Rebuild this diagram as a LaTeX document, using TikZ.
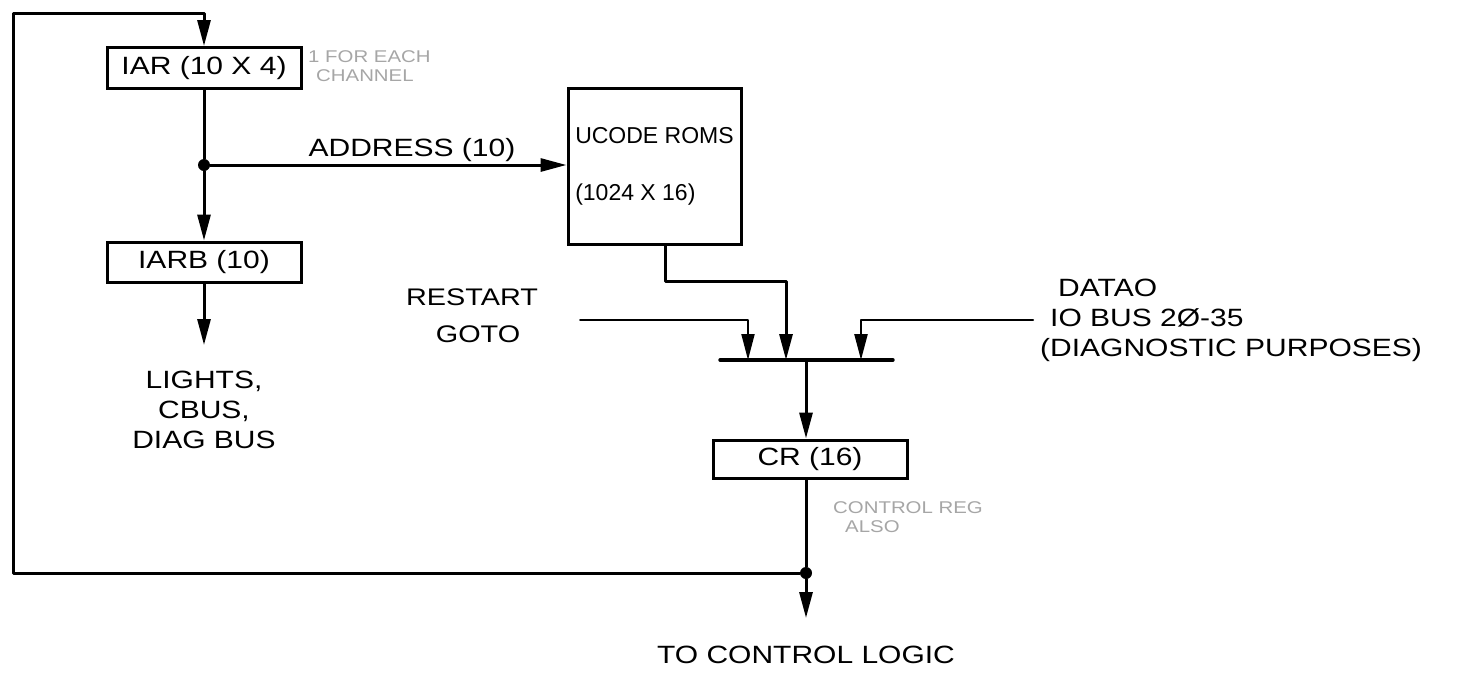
\documentclass[tikz,border=0pt]{standalone}
\usepackage{fontspec}
\setmainfont[FakeStretch=1.2]{Liberation Sans}
\newfontfamily\romfont{Liberation Sans}
\usetikzlibrary{arrows.meta}
\tikzset{
  x=1pt, y=-1pt,
  wire/.style={line width=3pt, line cap=round, line join=round},
  arr/.style={wire, -{Triangle[length=26pt,width=13pt]}},
  reg/.style={draw, line width=3pt, rectangle, inner sep=0pt, font=\fontsize{25}{28}\selectfont},
  lbl/.style={font=\fontsize{25}{30}\selectfont, inner sep=0pt},
  faint/.style={font=\fontsize{17}{19}\selectfont, text=black!35, inner sep=0pt, align=left},
  junction/.style={circle, fill, inner sep=0pt, minimum size=12pt}
}
\begin{document}
\begin{tikzpicture}
\useasboundingbox (0,0) rectangle (1467,673);
% registers
\node[reg, minimum width=194pt, minimum height=41pt] (iar) at (204,68) {IAR (10 X 4)};
\node[reg, minimum width=194pt, minimum height=40pt] (iarb) at (204,262) {IARB (10)};
\node[reg, minimum width=173pt, minimum height=156pt, align=left, font=\romfont\fontsize{23}{26}\selectfont] (rom) at (654.5,166) {UCODE ROMS\\[31pt](1024 X 16)};
\node[reg, minimum width=194pt, minimum height=38pt] (cr) at (810,459) {CR (16)};
% junctions and points
\node[junction] (j1) at (204,165) {};
\node[junction] (j2) at (806,573) {};
\coordinate (barL) at (720,360);
\coordinate (barR) at (893,360);
\coordinate (bar1) at (748,360);
\coordinate (bar2) at (786,360);
\coordinate (bar3) at (861,360);
\coordinate (bar0) at (806,360);
\coordinate (rs) at (580,320);
\coordinate (dt) at (1033,320);
\coordinate (lt) at (204,345);
\coordinate (out) at (806,618);
% labels
\node[lbl] (addr) at (412,150) {ADDRESS (10)};
\node[lbl, align=center] (lights) at (204,410) {LIGHTS,\\CBUS,\\DIAG BUS};
\node[lbl, align=center, font=\fontsize{24}{37}\selectfont] (restart) at (472,316) {RESTART\\\hspace*{12pt}GOTO};
\node[lbl, align=left, anchor=west] (datao) at (1040,320) {\hspace*{18pt}DATAO\\\hspace*{10pt}IO BUS 2Ø-35\\(DIAGNOSTIC PURPOSES)};
\node[lbl] (tcl) at (806,655) {TO CONTROL LOGIC};
\node[faint, anchor=west] (note1) at (308,66) {1 FOR EACH\\\hspace*{8pt}CHANNEL};
\node[faint, anchor=west] (note2) at (833,517) {CONTROL REG\\\hspace*{12pt}ALSO};
% connectors
\draw[wire] (iar.south) -- (j1);
\draw[arr] (j1) -- (iarb.north);
\draw[arr] (j1) -- (rom.west |- j1);
\draw[arr] (iarb.south) -- (lt);
\draw[arr] (rom.south -| 665,0) -- (665,281) -- (786,281) -- (bar2);
\draw[arr, line width=2pt] (rs) -- (748,320) -- (bar1);
\draw[arr, line width=2.4pt] (dt) -- (861,320) -- (bar3);
\draw[wire, line width=3.4pt] (barL) -- (barR);
\draw[arr] (bar0) -- (bar0 |- cr.north);
\draw[wire] (cr.south -| j2) -- (j2);
\draw[arr] (j2) -- (out);
\draw[arr] (j2) -- (13,573) -- (13,13) -- (204,13) -- (iar.north);
\end{tikzpicture}
\end{document}
